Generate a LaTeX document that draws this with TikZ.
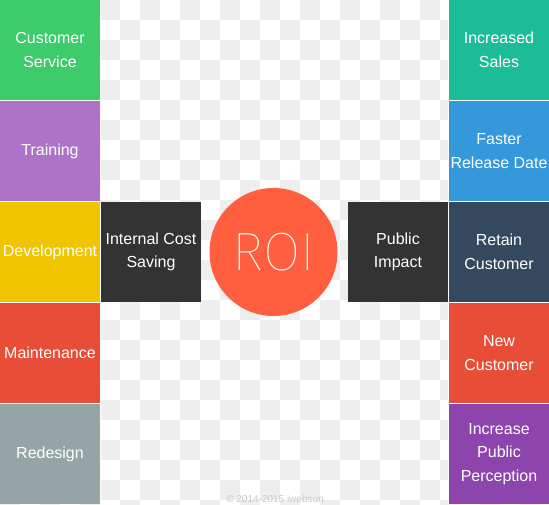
\documentclass[tikz,border=0pt]{standalone}
\usepackage{fontspec}
\setmainfont{Liberation Sans}
\IfFontExistsTF{Fira Sans Thin}{\newfontfamily\roifont{Fira Sans Thin}}{%
  \IfFontExistsTF{Fira Sans Light}{\newfontfamily\roifont{Fira Sans Light}}{\newfontfamily\roifont{Liberation Sans}}}
\definecolor{checkgray}{HTML}{EEEEEE}
\definecolor{cgreen}{HTML}{3DCB6B}
\definecolor{cpurple}{HTML}{AC73C7}
\definecolor{cyellow}{HTML}{F1C400}
\definecolor{cred}{HTML}{E84E37}
\definecolor{cgray}{HTML}{95A4A5}
\definecolor{cteal}{HTML}{1DBC98}
\definecolor{cblue}{HTML}{3498DB}
\definecolor{cnavy}{HTML}{34495E}
\definecolor{cviolet}{HTML}{8E44AD}
\definecolor{cdark}{HTML}{333333}
\definecolor{roi}{HTML}{FF5E3F}
\begin{document}
\begin{tikzpicture}[x=1pt,y=-1pt,
  tile/.style={anchor=north west, minimum width=100pt, minimum height=100pt,
    inner sep=0pt, outer sep=0pt, text=white, align=center,
    font=\fontsize{16}{23.5}\selectfont},
  roicircle/.style={circle, fill=roi, minimum size=128pt, inner sep=0pt,
    text=white, font=\roifont\fontsize{54}{54}\selectfont},
  note/.style={text=black!22, font=\fontsize{10}{12}\selectfont, anchor=base, inner sep=0pt}
]
\useasboundingbox (0,0) rectangle (549,504);
\fill[white] (0,0) rectangle (549,504);
\foreach \j in {0,...,25}{%
  \foreach \i in {0,...,27}{%
    \ifodd\numexpr\i+\j\relax
      \fill[checkgray] (\i*20,\j*20) rectangle ++(20,20);
    \fi
  }%
}
\fill[white] (0,0) rectangle (101,504);
\fill[white] (448,0) rectangle (549,504);
% left column
\node[tile, fill=cgreen]  (cs)  at (0,0)   {Customer\\Service};
\node[tile, fill=cpurple] (tr)  at (0,101) {Training};
\node[tile, fill=cyellow] (dev) at (0,202) {Development};
\node[tile, fill=cred]    (mt)  at (0,303) {Maintenance};
\node[tile, fill=cgray]   (rd)  at (0,404) {Redesign};
% right column
\node[tile, fill=cteal]   (is)  at (449,0)   {Increased\\Sales};
\node[tile, fill=cblue]   (frd) at (449,101) {Faster\\Release Date};
\node[tile, fill=cnavy]   (rc)  at (449,202) {Retain\\Customer};
\node[tile, fill=cred]    (nc)  at (449,303) {New\\Customer};
\node[tile, fill=cviolet] (ipp) at (449,404) {Increase\\Public\\Perception};
% middle
\node[tile, fill=cdark] (ics) at (101,202) {Internal Cost\\Saving};
\node[tile, fill=cdark] (pim) at (348,202) {Public\\Impact};
\node[roicircle] (roi) at (273.5,252) {ROI};
\node[note] (copy) at (275,502) {© 2014-2015 iwebsun};
\end{tikzpicture}
\end{document}
